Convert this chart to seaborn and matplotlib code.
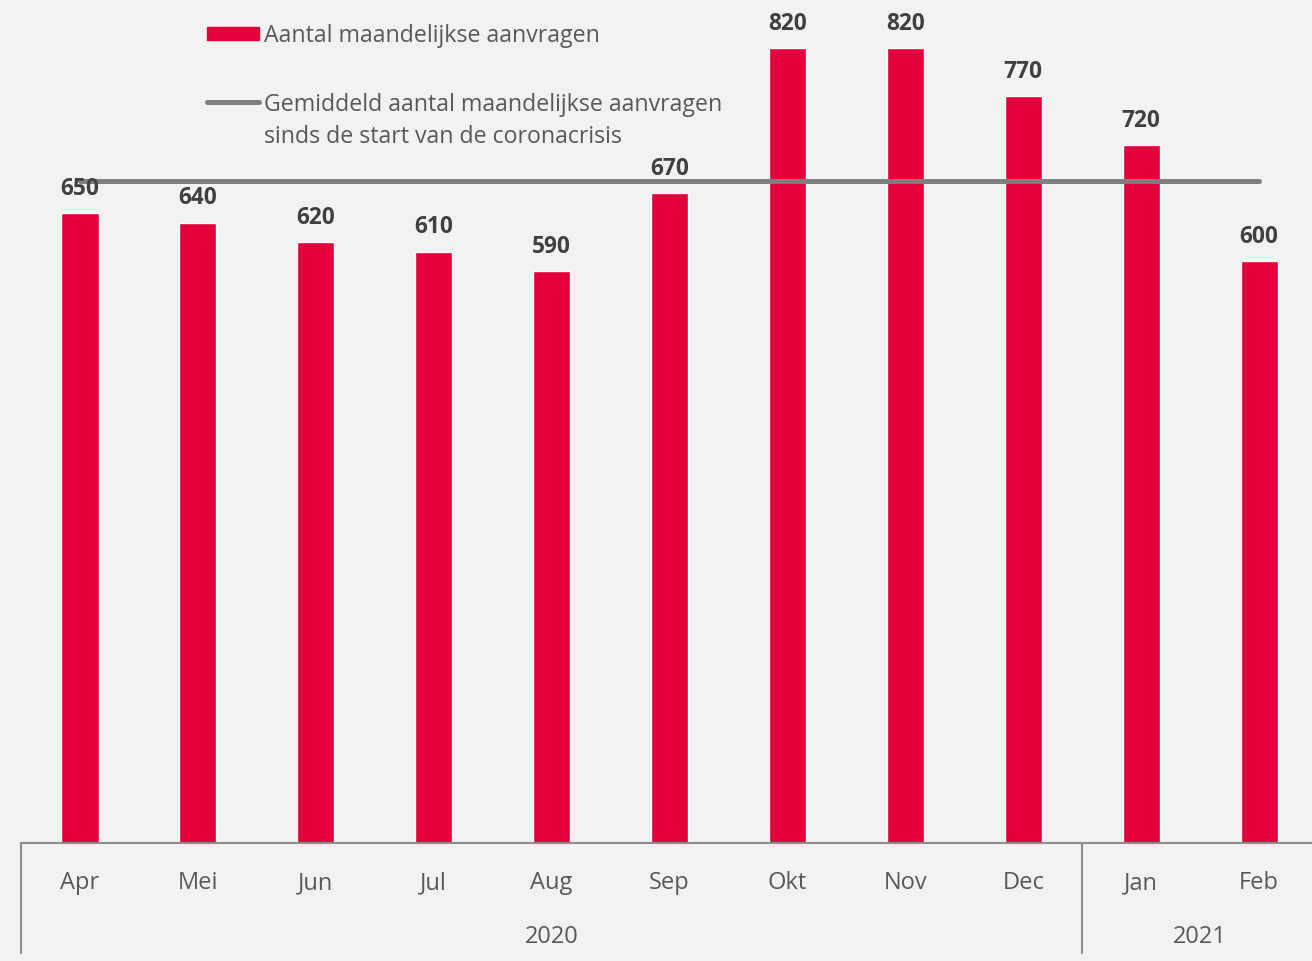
import matplotlib
matplotlib.use("Agg")
import matplotlib.pyplot as plt
import matplotlib.patches as mpatches
import matplotlib.lines as mlines
import matplotlib.transforms as mtransforms
import seaborn as sns

# data
months = ['Apr', 'Mei', 'Jun', 'Jul', 'Aug', 'Sep', 'Okt', 'Nov', 'Dec', 'Jan', 'Feb']
aanvragen = [650, 640, 620, 610, 590, 670, 820, 820, 770, 720, 600]
gemiddeld = 683
years = ['2020', '2021']
year_groups = [(0, 8), (9, 10)]

RED = '#e4003b'
GREY_LINE = '#7f7f7f'
TXT = '#595959'
BG = '#f2f2f2'

sns.set_style("white")
plt.rcParams['font.family'] = ['Open Sans', 'DejaVu Sans']

W, H = 1312, 961
fig = plt.figure(figsize=(W / 100, H / 100), dpi=100, facecolor=BG)
ax = fig.add_axes([21.05 / W, 1 - 843 / H, 1297 / W, 843 / H])
ax.set_facecolor(BG)

sns.barplot(x=months, y=aanvragen, color=RED, width=0.314, saturation=1, ax=ax, zorder=2)
sns.lineplot(x=months, y=[gemiddeld] * len(months), color=GREY_LINE, lw=3.6, ax=ax, zorder=3)

ax.set_xlim(-0.5, len(months) - 0.5)
ax.set_ylim(0, 869.5)

# value labels
for i, v in enumerate(aanvragen):
    ax.annotate(str(v), (i, v), xytext=(0, 17.5), textcoords='offset points',
                ha='center', va='center', fontsize=16.3, fontweight='bold',
                color='#404040', zorder=4)

# axes styling
for s in ['top', 'right', 'left']:
    ax.spines[s].set_visible(False)
ax.spines['bottom'].set_color('#8c8c8c')
ax.spines['bottom'].set_linewidth(1.5)
ax.set_yticks([])
ax.set_xticks(range(len(months)))
ax.set_xticklabels([])
ax.tick_params(axis='x', length=0)

trans = mtransforms.blended_transform_factory(ax.transData, ax.transAxes)
for i, m in enumerate(months):
    ax.text(i, -46 / 843, m, transform=trans, ha='center', va='baseline',
            fontsize=17, color=TXT)
for yr, (a, b) in zip(years, year_groups):
    ax.text((a + b) / 2, -100 / 843, yr, transform=trans, ha='center', va='baseline',
            fontsize=17, color=TXT)
    ax.plot([a - 0.5, a - 0.5], [0, -110 / 843], transform=trans, color='#8c8c8c',
            lw=1.5, clip_on=False)

# legend
fig.add_artist(mpatches.Rectangle((207 / W, 1 - 40 / H), 52 / W, 13 / H,
                                  transform=fig.transFigure, color=RED))
fig.text(264 / W, 1 - 42 / H, 'Aantal maandelijkse aanvragen', ha='left', va='baseline',
         fontsize=16.7, color=TXT)
fig.add_artist(mlines.Line2D([207 / W, 259 / W], [1 - 102 / H, 1 - 102 / H],
                             transform=fig.transFigure, color=GREY_LINE, lw=3.6,
                             solid_capstyle='round'))
fig.text(264 / W, 1 - 111 / H, 'Gemiddeld aantal maandelijkse aanvragen', ha='left',
         va='baseline', fontsize=16.7, color=TXT)
fig.text(264 / W, 1 - 143 / H, 'sinds de start van de coronacrisis', ha='left',
         va='baseline', fontsize=16.7, color=TXT)

fig.savefig('out.png', dpi=100, facecolor=BG)
plt.close()
